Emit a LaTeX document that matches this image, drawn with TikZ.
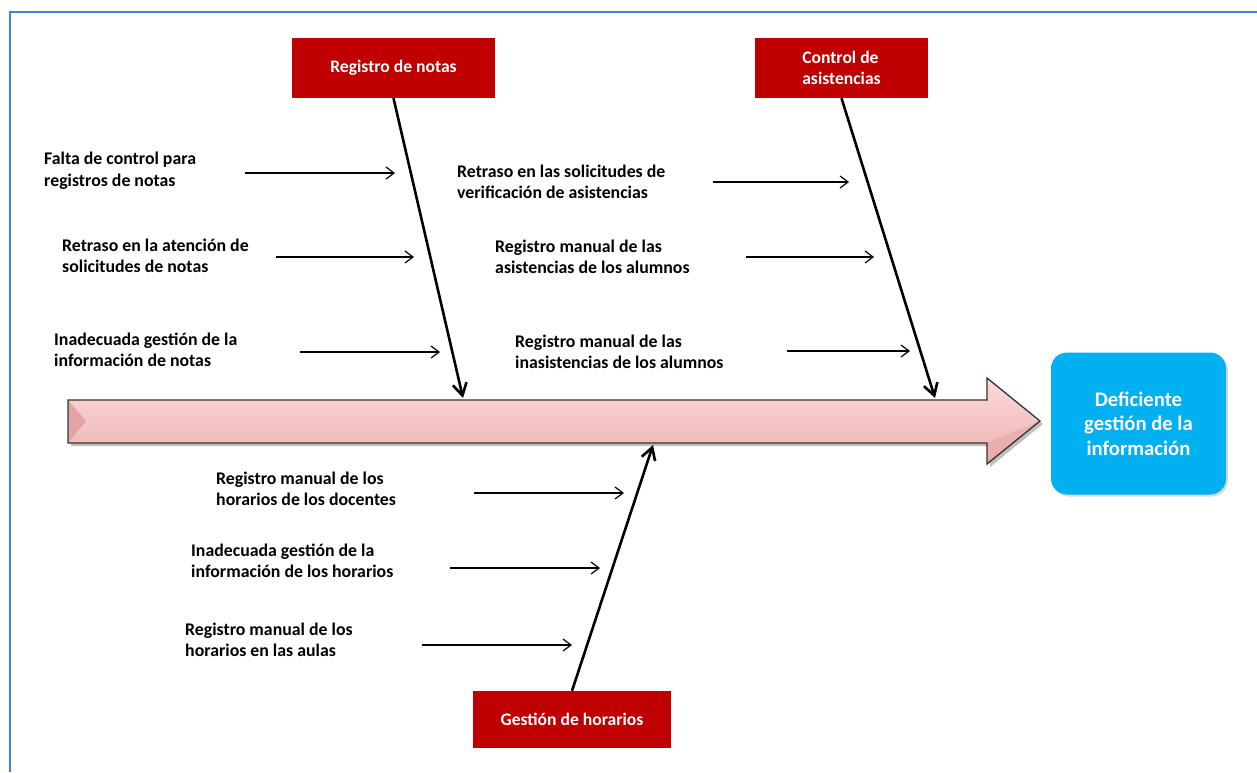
\documentclass[tikz,border=0pt]{standalone}
\usepackage{fontspec}
\setmainfont{Carlito}
\usetikzlibrary{arrows.meta,shadows}
\definecolor{framecol}{HTML}{4A7DD6}
\definecolor{boxred}{HTML}{C00000}
\definecolor{boxblue}{HTML}{00B0F0}
\definecolor{pinktop}{HTML}{FBDADA}
\definecolor{pinkmid}{HTML}{F5BABA}
\definecolor{pinkbot}{HTML}{EFB0B0}
\definecolor{pinkdark}{HTML}{E2A4A4}
\begin{document}
\begin{tikzpicture}[x=1pt,y=-1pt,
  redbox/.style={fill=boxred, text=white, font=\bfseries\fontsize{17.6}{21.5}\selectfont, inner sep=0pt, align=center},
  bluebox/.style={fill=boxblue, text=white, rounded corners=16pt, inner sep=0pt, align=center,
     font=\bfseries\fontsize{20.7}{24.5}\selectfont, minimum width=175pt, minimum height=142pt,
     drop shadow={opacity=0.3, shadow xshift=2pt, shadow yshift=-2pt}},
  lbl/.style={anchor=west, inner sep=0pt, align=left, font=\bfseries\fontsize{17.8}{21.5}\selectfont},
  bone/.style={line width=2.6pt, -{Straight Barb[length=12pt,width=14pt]}},
  cause/.style={line width=1.2pt, -{Straight Barb[length=8pt,width=12pt]}}
]
\useasboundingbox (0,0) rectangle (1257,772);
% frame
\draw[framecol, line width=2pt] (10,772) -- (10,12) -- (1257,12);

% spine arrow
\path[fill=black, opacity=0.25] (71,403) -- (990,403) -- (990,381) -- (1043,424) -- (990,467) -- (990,446) -- (71,446) -- cycle;
\shade[top color=pinktop, middle color=pinkmid, bottom color=pinkbot]
  (68,400) -- (987,400) -- (987,378) -- (1040,421) -- (987,464) -- (987,443) -- (68,443) -- cycle;
\fill[pinkdark] (68,400) -- (86,421) -- (68,443) -- cycle;
\fill[pinkdark, opacity=0.5] (987,443) -- (1040,421) -- (987,464) -- cycle;
\draw[black!80, line width=1.3pt, line join=miter]
  (68,400) -- (987,400) -- (987,378) -- (1040,421) -- (987,464) -- (987,443) -- (68,443) -- cycle;

\coordinate (e1) at (463,398);
\coordinate (e2) at (935,398);
\coordinate (e3) at (653,445);

% effect box
\node[bluebox] (eff) at (1138.5,423.5) {Deficiente\\gestión de la\\información};

% category boxes
\node[redbox, minimum width=203pt, minimum height=60pt] (rn) at (393.5,68) {Registro de notas};
\node[redbox, minimum width=173pt, minimum height=60pt, align=left] (ca) at (841.5,68) {Control de\\asistencias};
\node[redbox, minimum width=198pt, minimum height=57pt] (gh) at (572,719.5) {Gestión de horarios};

% bones
\draw[bone] (rn.south) -- (e1);
\draw[bone] (ca.south) -- (e2);
\draw[bone] (gh.north) -- (e3);

% causes
\node[lbl] (l1) at (44,171) {Falta de control para\\registros de notas};
\node[lbl] (l2) at (62,256) {Retraso en la atención de\\solicitudes de notas};
\node[lbl] (l3) at (54,350) {Inadecuada gestión de la\\información de notas};
\node[lbl] (l4) at (457,182) {Retraso en las solicitudes de\\verificación de asistencias};
\node[lbl] (l5) at (495,257) {Registro manual de las\\asistencias de los alumnos};
\node[lbl] (l6) at (515,352) {Registro manual de las\\inasistencias de los alumnos};
\node[lbl] (l7) at (216,489) {Registro manual de los\\horarios de los docentes};
\node[lbl] (l8) at (191,561) {Inadecuada gestión de la\\información de los horarios};
\node[lbl] (l9) at (185,640) {Registro manual de los\\horarios en las aulas};

\coordinate (s1) at (245,173); \coordinate (t1) at (395,173);
\coordinate (s2) at (276,257); \coordinate (t2) at (414,257);
\coordinate (s3) at (300,352); \coordinate (t3) at (440,352);
\coordinate (s4) at (713,182); \coordinate (t4) at (849,182);
\coordinate (s5) at (746,257); \coordinate (t5) at (874,257);
\coordinate (s6) at (787,351); \coordinate (t6) at (910,351);
\coordinate (s7) at (474,493); \coordinate (t7) at (624,493);
\coordinate (s8) at (450,568); \coordinate (t8) at (600,568);
\coordinate (s9) at (422,645); \coordinate (t9) at (572,645);
\foreach \i in {1,...,9} { \draw[cause] (s\i) -- (t\i); }
\end{tikzpicture}
\end{document}
